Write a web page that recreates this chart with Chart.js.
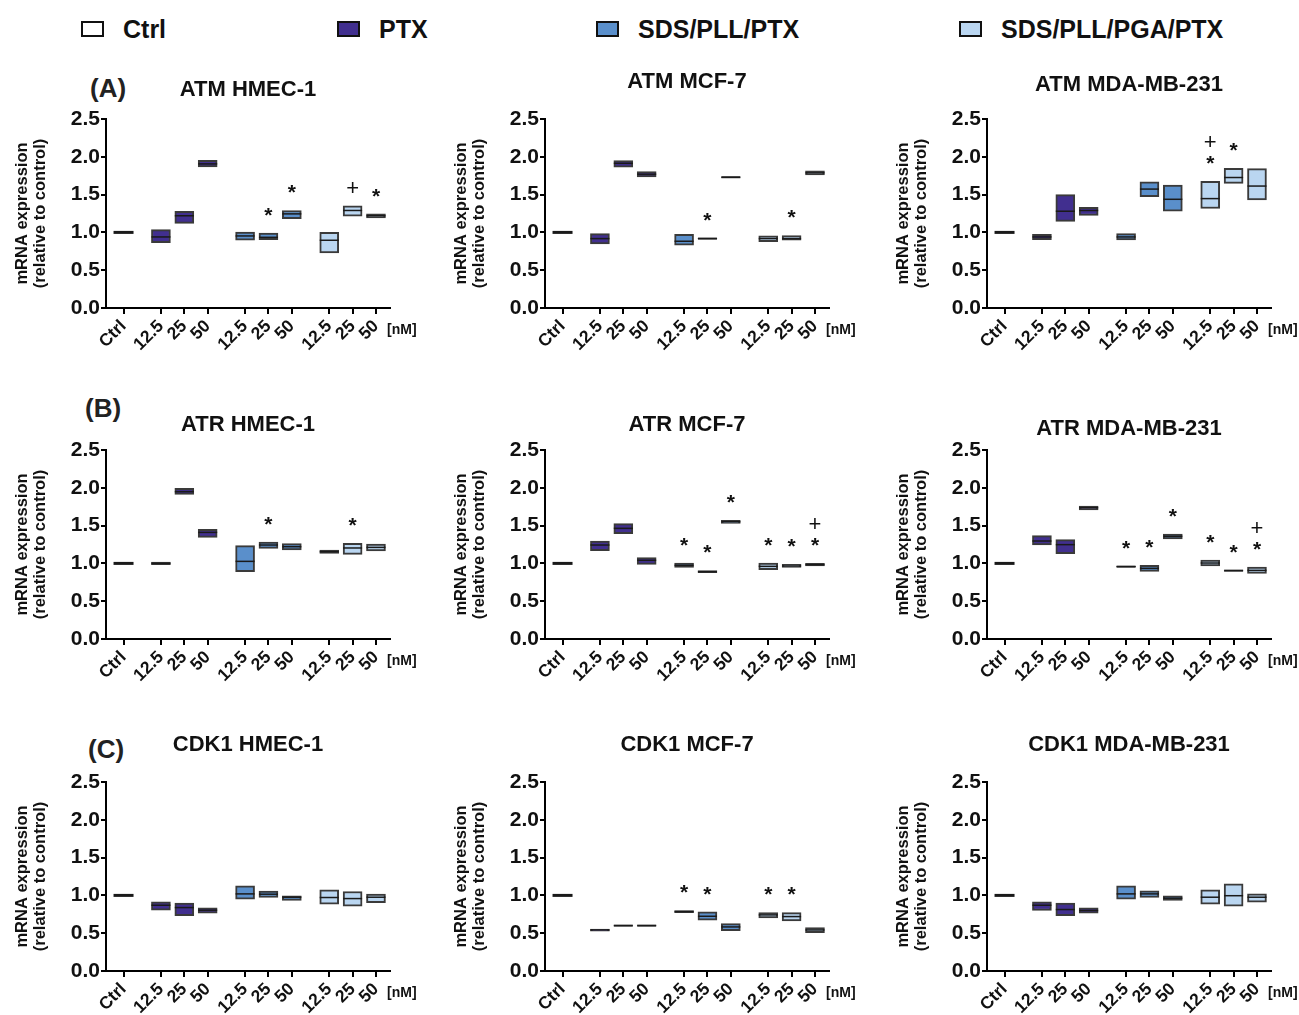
<!DOCTYPE html>
<html>
<head>
<meta charset="utf-8">
<script src="https://cdn.jsdelivr.net/npm/chart.js@4.4.1/dist/chart.umd.min.js"></script>
<style>
  body { margin: 0; background: #fff; width: 1299px; height: 1015px; position: relative; overflow: hidden;
         font-family: "Liberation Sans", Arial, sans-serif; color: #111; }
  .legend-item { position: absolute; top: 14px; height: 30px; display: flex; align-items: center;
                 font-weight: bold; font-size: 25px; line-height: 30px; }
  .legend-box { width: 19px; height: 12px; border: 2px solid #111; margin-right: 19px; }
  .panel-letter { position: absolute; font-weight: bold; font-size: 26px; line-height: 30px; color: #222; }
  canvas { position: absolute; }
</style>
</head>
<body>

<div class="legend-item" style="left:81px"><span class="legend-box" style="background:#ffffff"></span>Ctrl</div>
<div class="legend-item" style="left:337px"><span class="legend-box" style="background:#412f8f"></span>PTX</div>
<div class="legend-item" style="left:596px"><span class="legend-box" style="background:#5a8fcb"></span>SDS/PLL/PTX</div>
<div class="legend-item" style="left:959px"><span class="legend-box" style="background:#bad6f1"></span>SDS/PLL/PGA/PTX</div>

<div class="panel-letter" style="left:90px;top:73px">(A)</div>
<div class="panel-letter" style="left:85px;top:393px">(B)</div>
<div class="panel-letter" style="left:88px;top:734px">(C)</div>

<canvas id="c0" width="418" height="331" style="left:0px;top:54px"></canvas>
<canvas id="c1" width="418" height="331" style="left:439px;top:54px"></canvas>
<canvas id="c2" width="418" height="331" style="left:881px;top:54px"></canvas>
<canvas id="c3" width="418" height="331" style="left:0px;top:385px"></canvas>
<canvas id="c4" width="418" height="331" style="left:439px;top:385px"></canvas>
<canvas id="c5" width="418" height="331" style="left:881px;top:385px"></canvas>
<canvas id="c6" width="418" height="331" style="left:0px;top:717px"></canvas>
<canvas id="c7" width="418" height="331" style="left:439px;top:717px"></canvas>
<canvas id="c8" width="418" height="331" style="left:881px;top:717px"></canvas>

<script>
// categories: Ctrl, then 12.5 / 25 / 50 nM for PTX, SDS/PLL/PTX, SDS/PLL/PGA/PTX
const xLabels = ["Ctrl", "12.5", "25", "50", "12.5", "25", "50", "12.5", "25", "50"];
const xPos = [0, 1.6, 2.6, 3.6, 5.2, 6.2, 7.2, 8.8, 9.8, 10.8];
const yTicks = [0, 0.5, 1.0, 1.5, 2.0, 2.5];

// ATM HMEC-1
const atmHmecLo  = [1.0, 0.865, 1.12, 1.866, 0.896, 0.905, 1.18, 0.73, 1.215, 1.193];
const atmHmecMed = [1.0, 0.94, 1.22, 1.906, 0.953, 0.935, 1.245, 0.896, 1.29, 1.22];
const atmHmecHi  = [1.0, 1.036, 1.28, 1.954, 1.005, 0.992, 1.29, 1.0, 1.35, 1.245];
const atmHmecSig = ["", "", "", "", "", "*", "*", "", "+", "*"];

// ATM MCF-7
const atmMcfLo  = [1.0, 0.848, 1.862, 1.735, 0.83, 0.915, 1.728, 0.878, 0.896, 1.761];
const atmMcfMed = [1.0, 0.918, 1.914, 1.77, 0.883, 0.918, 1.73, 0.918, 0.918, 1.788];
const atmMcfHi  = [1.0, 0.983, 1.95, 1.805, 0.975, 0.92, 1.732, 0.953, 0.957, 1.814];
const atmMcfSig = ["", "", "", "", "", "*", "", "", "*", ""];

// ATM MDA-MB-231
const atmMdaLo  = [1.0, 0.905, 1.145, 1.224, 0.9, 1.473, 1.28, 1.316, 1.648, 1.429];
const atmMdaMed = [1.0, 0.94, 1.28, 1.29, 0.94, 1.573, 1.438, 1.447, 1.726, 1.613];
const atmMdaHi  = [1.0, 0.975, 1.5, 1.333, 0.983, 1.67, 1.626, 1.674, 1.849, 1.844];
const atmMdaSig = ["", "", "", "", "", "", "", "+*", "*", ""];

// ATR HMEC-1
const atrHmecLo  = [1.0, 0.983, 1.914, 1.345, 0.89, 1.199, 1.177, 1.133, 1.12, 1.164];
const atrHmecMed = [1.0, 1.0, 1.949, 1.41, 1.027, 1.243, 1.221, 1.155, 1.204, 1.212];
const atrHmecHi  = [1.0, 1.018, 1.993, 1.45, 1.235, 1.283, 1.261, 1.177, 1.265, 1.257];
const atrHmecSig = ["", "", "", "", "", "*", "", "", "*", ""];

// ATR MCF-7
const atrMcfLo  = [1.0, 1.168, 1.393, 0.988, 0.948, 0.877, 1.53, 0.917, 0.948, 0.966];
const atrMcfMed = [1.0, 1.243, 1.464, 1.041, 0.974, 0.89, 1.552, 0.961, 0.966, 0.983];
const atrMcfHi  = [1.0, 1.296, 1.526, 1.076, 1.005, 0.904, 1.57, 1.005, 0.988, 1.0];
const atrMcfSig = ["", "", "", "", "*", "*", "*", "*", "*", "+*"];

// ATR MDA-MB-231
const atrMdaLo  = [1.0, 1.243, 1.129, 1.706, 0.955, 0.895, 1.323, 0.966, 0.902, 0.869];
const atrMdaMed = [1.0, 1.296, 1.248, 1.737, 0.957, 0.935, 1.358, 1.005, 0.904, 0.908];
const atrMdaHi  = [1.0, 1.367, 1.314, 1.759, 0.96, 0.974, 1.389, 1.045, 0.906, 0.952];
const atrMdaSig = ["", "", "", "", "*", "*", "*", "*", "*", "+*"];

// CDK1 HMEC-1
const cdkHmecLo  = [1.0, 0.804, 0.733, 0.764, 0.95, 0.972, 0.932, 0.883, 0.857, 0.905];
const cdkHmecMed = [1.0, 0.87, 0.839, 0.804, 1.02, 1.016, 0.976, 0.972, 0.958, 0.976];
const cdkHmecHi  = [1.0, 0.914, 0.9, 0.835, 1.126, 1.056, 0.994, 1.073, 1.051, 1.016];
const cdkHmecSig = ["", "", "", "", "", "", "", "", "", ""];

// CDK1 MCF-7
const cdkMcfLo  = [1.0, 0.526, 0.598, 0.598, 0.773, 0.672, 0.534, 0.702, 0.662, 0.508];
const cdkMcfMed = [1.0, 0.543, 0.6, 0.6, 0.786, 0.724, 0.583, 0.742, 0.72, 0.543];
const cdkMcfHi  = [1.0, 0.556, 0.602, 0.602, 0.8, 0.782, 0.627, 0.773, 0.773, 0.574];
const cdkMcfSig = ["", "", "", "", "*", "*", "", "*", "*", ""];

// CDK1 MDA-MB-231
const cdkMdaLo  = [1.0, 0.8, 0.733, 0.764, 0.95, 0.972, 0.932, 0.883, 0.857, 0.91];
const cdkMdaMed = [1.0, 0.87, 0.813, 0.8, 1.02, 1.02, 0.963, 0.976, 0.996, 0.976];
const cdkMdaHi  = [1.0, 0.914, 0.897, 0.835, 1.126, 1.06, 0.994, 1.073, 1.153, 1.02];
const cdkMdaSig = ["", "", "", "", "", "", "", "", "", ""];

const FONT = '"Liberation Sans", Arial, sans-serif';
const PTX = "#412f8f", SDS = "#5a8fcb", PGA = "#bad6f1";
const fillByCat = ["#ffffff", PTX, PTX, PTX, SDS, SDS, SDS, PGA, PGA, PGA];

// titleMid = vertical centre of the title inside its canvas
const panels = [
  { id: "c0", title: "ATM HMEC-1",      lo: atmHmecLo, med: atmHmecMed, hi: atmHmecHi, sig: atmHmecSig, titleMid: 35.5 },
  { id: "c1", title: "ATM MCF-7",       lo: atmMcfLo,  med: atmMcfMed,  hi: atmMcfHi,  sig: atmMcfSig,  titleMid: 27.5 },
  { id: "c2", title: "ATM MDA-MB-231",  lo: atmMdaLo,  med: atmMdaMed,  hi: atmMdaHi,  sig: atmMdaSig,  titleMid: 31 },
  { id: "c3", title: "ATR HMEC-1",      lo: atrHmecLo, med: atrHmecMed, hi: atrHmecHi, sig: atrHmecSig, titleMid: 40 },
  { id: "c4", title: "ATR MCF-7",       lo: atrMcfLo,  med: atrMcfMed,  hi: atrMcfHi,  sig: atrMcfSig,  titleMid: 40 },
  { id: "c5", title: "ATR MDA-MB-231",  lo: atrMdaLo,  med: atrMdaMed,  hi: atrMdaHi,  sig: atrMdaSig,  titleMid: 43.5 },
  { id: "c6", title: "CDK1 HMEC-1",     lo: cdkHmecLo, med: cdkHmecMed, hi: cdkHmecHi, sig: cdkHmecSig, titleMid: 28 },
  { id: "c7", title: "CDK1 MCF-7",      lo: cdkMcfLo,  med: cdkMcfMed,  hi: cdkMcfHi,  sig: cdkMcfSig,  titleMid: 28 },
  { id: "c8", title: "CDK1 MDA-MB-231", lo: cdkMdaLo,  med: cdkMdaMed,  hi: cdkMdaHi,  sig: cdkMdaSig,  titleMid: 28 },
];

// significance marks (* and +) above the boxes, plus the [nM] unit
function sigPlugin(p) {
  return {
    id: "sig",
    afterDatasetsDraw(chart) {
      const { ctx, chartArea } = chart;
      const xs = chart.scales.x, ys = chart.scales.y;
      ctx.save();
      ctx.fillStyle = "#111";
      ctx.textAlign = "center";
      ctx.textBaseline = "alphabetic";
      p.sig.forEach((m, i) => {
        if (!m) return;
        const px = xs.getPixelForValue(xPos[i]);
        const top = ys.getPixelForValue(p.hi[i]);
        const hasStar = m.includes("*");
        if (hasStar) {
          ctx.font = "bold 21px " + FONT;
          ctx.fillText("*", px, top - 23 + 21 * 0.56);
        }
        if (m.includes("+")) {
          const c = hasStar ? top - 40 : top - 19;
          ctx.font = "22px " + FONT;
          ctx.fillText("+", px, c + 22 * 0.35);
        }
      });
      ctx.font = "bold 14px " + FONT;
      ctx.textAlign = "left";
      ctx.textBaseline = "middle";
      ctx.fillText("[nM]", chartArea.right - 3, chartArea.bottom + 22);
      ctx.restore();
    }
  };
}

panels.forEach((p) => {
  const lh = 26.4;
  const padTop = p.titleMid - lh / 2;
  const isLine = (i) => p.hi[i] - p.lo[i] < 0.01;

  new Chart(document.getElementById(p.id), {
    type: "bar",
    data: {
      datasets: [
        {
          type: "line",
          order: 0,
          data: xPos.map((x, i) => ({ x, y: p.med[i] })),
          showLine: false,
          pointStyle: "line",
          pointRadius: (c) => (c.dataIndex === 0 ? 10 : 9.5),
          pointHoverRadius: (c) => (c.dataIndex === 0 ? 10 : 9.5),
          pointBorderWidth: (c) => (c.dataIndex === 0 ? 3 : isLine(c.dataIndex) ? 2 : 1.5),
          pointBorderColor: "#1a1a1a",
          borderColor: "#1a1a1a",
        },
        {
          type: "bar",
          order: 1,
          data: xPos.map((x, i) => ({ x, y: [p.lo[i], p.hi[i]] })),
          backgroundColor: fillByCat,
          borderColor: "#3a3a3a",
          borderWidth: 2,
          borderSkipped: false,
          barThickness: 19,
        },
      ],
    },
    options: {
      responsive: false,
      animation: false,
      events: [],
      devicePixelRatio: 1,
      layout: { padding: { left: 0, right: 28, top: 0, bottom: 0 } },
      plugins: {
        legend: { display: false },
        tooltip: { enabled: false },
        title: {
          display: true,
          text: p.title,
          fullSize: false,
          color: "#111",
          font: { family: FONT, size: 22, weight: "bold", lineHeight: 1.2 },
          padding: { top: padTop, bottom: 65 - lh - padTop },
        },
      },
      scales: {
        x: {
          type: "linear",
          min: -0.75,
          max: 11.4,
          offset: false,
          afterBuildTicks: (axis) => { axis.ticks = xPos.map((v) => ({ value: v })); },
          afterFit: (axis) => { axis.height = 77; },
          ticks: {
            autoSkip: false,
            minRotation: 45,
            maxRotation: 45,
            padding: 2,
            color: "#111",
            font: { family: FONT, size: 17.5, weight: "bold" },
            callback: (v, i) => xLabels[i],
          },
          grid: { display: true, offset: false, drawOnChartArea: false, drawTicks: true, tickLength: 6, color: "#000", lineWidth: 2 },
          border: { display: true, color: "#000", width: 2 },
        },
        y: {
          min: 0,
          max: 2.5,
          afterBuildTicks: (axis) => { axis.ticks = yTicks.map((v) => ({ value: v })); },
          afterFit: (axis) => { axis.width = 106; },
          ticks: {
            padding: 1,
            color: "#111",
            font: { family: FONT, size: 21, weight: "bold" },
            callback: (v) => Number(v).toFixed(1),
          },
          grid: { display: true, drawOnChartArea: false, drawTicks: true, tickLength: 5, color: "#000", lineWidth: 2 },
          border: { display: true, color: "#000", width: 2 },
          title: {
            display: true,
            text: ["mRNA expression", "(relative to control)"],
            color: "#111",
            font: { family: FONT, size: 16.5, weight: "bold", lineHeight: 1.09 },
            padding: { top: 13, bottom: 0 },
          },
        },
      },
    },
    plugins: [sigPlugin(p)],
  });
});
</script>
</body>
</html>
